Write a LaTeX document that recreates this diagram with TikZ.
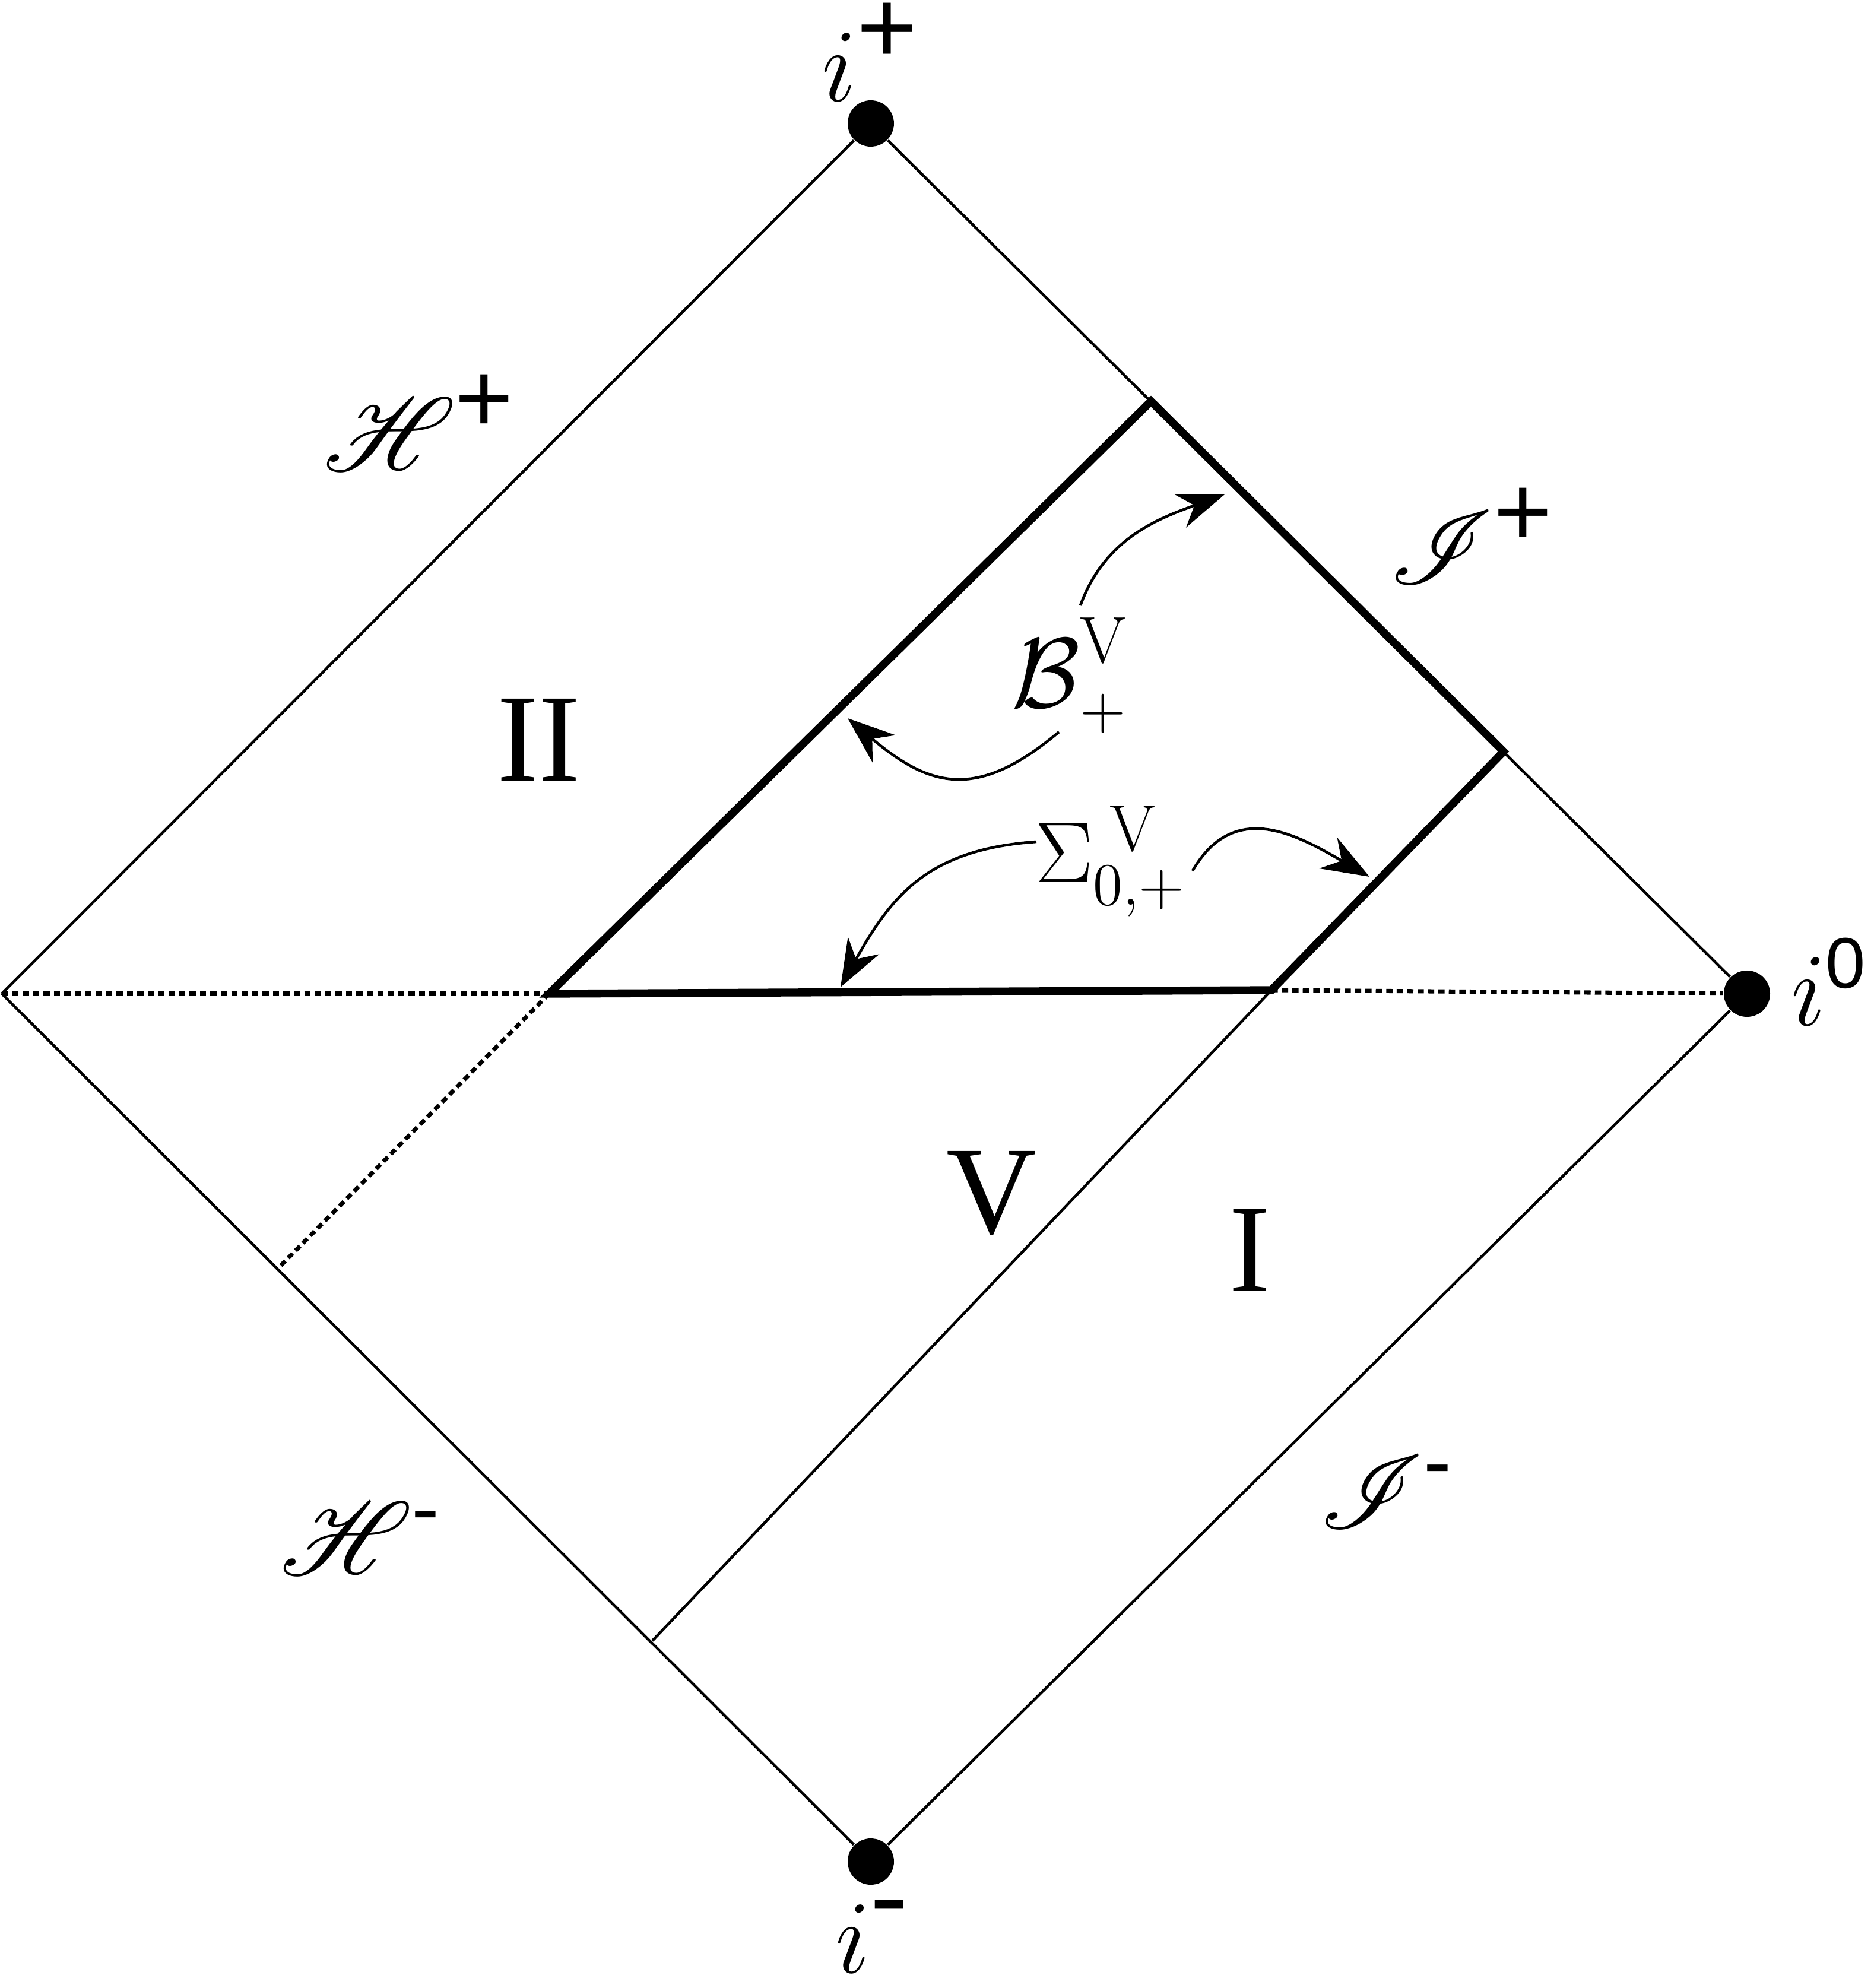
\documentclass[tikz,border=0pt]{standalone}
\usepackage{amsmath}
\usepackage{mathrsfs}
\usepackage{fontspec}
\newfontfamily\regionfont{Liberation Serif}
\newfontfamily\supfont{Liberation Sans}
\usetikzlibrary{arrows.meta}
\newcommand{\supsign}[2]{\text{\supfont\fontsize{#1}{#1}\selectfont #2}}
\tikzset{
  thinline/.style={line width=0.65pt},
  bound/.style={line width=1.9pt,line join=miter},
  dotline/.style={line width=1pt,dash pattern=on 1.5pt off 1pt},
  arrow/.style={line width=0.65pt,-{Stealth[length=0.4cm,width=0.3cm]}},
  dot/.style={circle,fill,inner sep=0pt,minimum size=0.39cm},
  region/.style={font=\regionfont\fontsize{30}{36}\selectfont},
  mathlabel/.style={font=\fontsize{22.6}{27}\selectfont},
  scriptlabel/.style={font=\fontsize{31}{36}\selectfont},
}
\begin{document}
\begin{tikzpicture}
      \useasboundingbox (-7.335,-8.375) rectangle (8.445,8.37);
      \draw
        (90:7.33) node[dot] (ip){}
        (0:7.38) node[dot] (i0){}
        (270:7.31) node[dot] (im){}
        (180:7.32) coordinate (L);
      \coordinate (D) at (-2.71,0);
      \coordinate (A) at (2.36,4.99);
      \coordinate (B) at (5.33,2.04);
      \coordinate (C) at (3.375,0.03);
      \coordinate (E) at (-1.84,-5.45);
      \coordinate (F) at (-4.99,-2.31);
      \begin{scope}[thinline]
        \draw (ip) to (i0);
        \draw (i0) to (im);
        \draw (im) to (L);
        \draw (L) to (ip);
        \draw (C) to (E);
      \end{scope}
      \begin{scope}[dotline]
        \draw (L) to (D);
        \draw (C) to (i0);
        \draw (D) to (F);
      \end{scope}
      \draw[bound] (D) -- (A) -- (B) -- (C) -- cycle;
      % labels
      \node[font=\fontsize{23}{27}\selectfont] (lip) at (0.0,7.93) {$i^{\supsign{25}{+}}$};
      \node[font=\fontsize{25}{30}\selectfont] (lim) at (0.02,-7.94) {$i^{\supsign{28}{-}}$};
      \node[font=\fontsize{25}{30}\selectfont] (li0) at (8.075,0.1) {$i^{\supsign{17.2}{0}}$};
      \node[scriptlabel] (Hp) at (-3.8,4.81) {$\mathscr{H}^{\supsign{24}{+}}$};
      \node[scriptlabel] (Hm) at (-4.295,-4.585) {$\mathscr{H}^{\supsign{20}{-}}$};
      \node[scriptlabel] (Ip) at (5.065,3.855) {$\mathscr{I}^{\supsign{24}{+}}$};
      \node[scriptlabel] (Im) at (4.345,-4.195) {$\mathscr{I}^{\supsign{20}{-}}$};
      \node[region] (II) at (-2.795,2.14) {II};
      \node[region] (V) at (1.02,-1.68) {V};
      \node[region] (I) at (3.195,-2.16) {I};
      \node[mathlabel] (Blab) at (1.675,2.68) {$\mbox{\scalebox{1.15}{$\mathcal{B}$}}^{\mathrm{V}}_{+}$};
      \node[mathlabel] (Slab) at (2.025,1.115) {$\Sigma^{\;\mathrm{V}}_{0,+}$};
      % arrows
      \coordinate (b1s) at (1.765,3.27);
      \coordinate (b1t) at (2.98,4.205);
      \coordinate (b2s) at (1.585,2.205);
      \coordinate (b2t) at (-0.195,2.32);
      \coordinate (s1s) at (1.395,1.28);
      \coordinate (s1t) at (-0.255,0.055);
      \coordinate (s2s) at (2.71,1.035);
      \coordinate (s2t) at (4.2,0.985);
      \begin{scope}[arrow]
        \draw (b1s) to[out=70,in=200] (b1t);
        \draw (b2s) to[out=220,in=-40,looseness=1.3] (b2t);
        \draw (s1s) .. controls (0.497,1.217) and (0.181,0.842) .. (s1t);
        \draw (s2s) to[out=60,in=150,looseness=1.2] (s2t);
      \end{scope}
    \end{tikzpicture}
\end{document}
